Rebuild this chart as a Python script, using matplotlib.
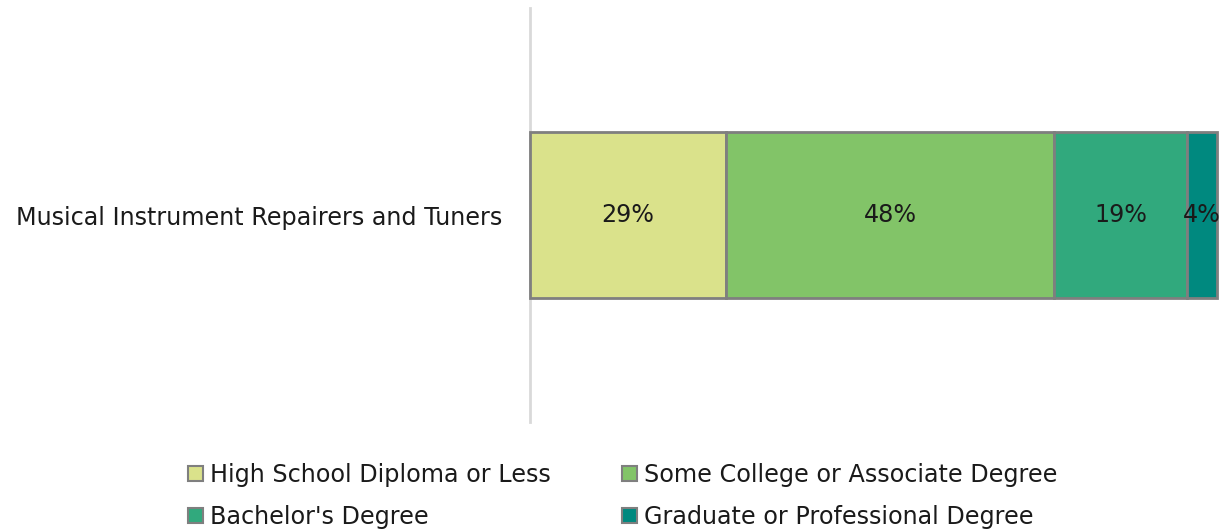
import matplotlib
matplotlib.use("Agg")
import matplotlib.pyplot as plt
from matplotlib.patches import Patch

plt.rcParams['font.family'] = ['DejaVu Sans']

category = "Musical Instrument Repairers and Tuners"
series = ["High School Diploma or Less", "Some College or Associate Degree",
          "Bachelor's Degree", "Graduate or Professional Degree"]
values = [28.6, 47.7, 19.3, 4.4]
labels = ["29%", "48%", "19%", "4%"]
colors = ["#DAE28B", "#82C468", "#31A97D", "#00897F"]

FS = 17.2
fig = plt.figure(figsize=(12.31, 5.31), dpi=100)
ax = fig.add_axes([530/1231, (531-422)/531, (1217-530)/1231, 414/531])

left = 0
for v, lab, c in zip(values, labels, colors):
    ax.barh([0], [v], left=left, height=0.4, color=c, edgecolor="#7f7f7f",
            linewidth=2, clip_on=False)
    ax.text(left + v/2, 0, lab, ha="center", va="center", fontsize=FS, color="#1a1a1a")
    left += v

ax.set_xlim(0, 100)
ax.set_ylim(-0.5, 0.5)
ax.set_yticks([0])
ax.set_yticklabels([category], fontsize=FS, color="#1a1a1a")
ax.tick_params(axis="y", length=0, pad=20)
ax.set_xticks([])
for s in ["top", "right", "bottom"]:
    ax.spines[s].set_visible(False)
ax.spines["left"].set_color("#d9d9d9")
ax.spines["left"].set_linewidth(2)
ax.spines["left"].set_zorder(0)

handles = [Patch(facecolor=c, edgecolor="#7f7f7f", linewidth=1.5) for c in colors]
order = [0, 2, 1, 3]
fig.legend([handles[i] for i in order], [series[i] for i in order],
           ncol=2, loc="upper left", bbox_to_anchor=(176/1231, 1 - 451/531),
           frameon=False, fontsize=FS, handlelength=0.62, handleheight=0.62,
           handletextpad=0.3, columnspacing=3.0, labelspacing=0.75,
           borderpad=0, labelcolor="#1a1a1a")

fig.savefig("out.png", dpi=100)
